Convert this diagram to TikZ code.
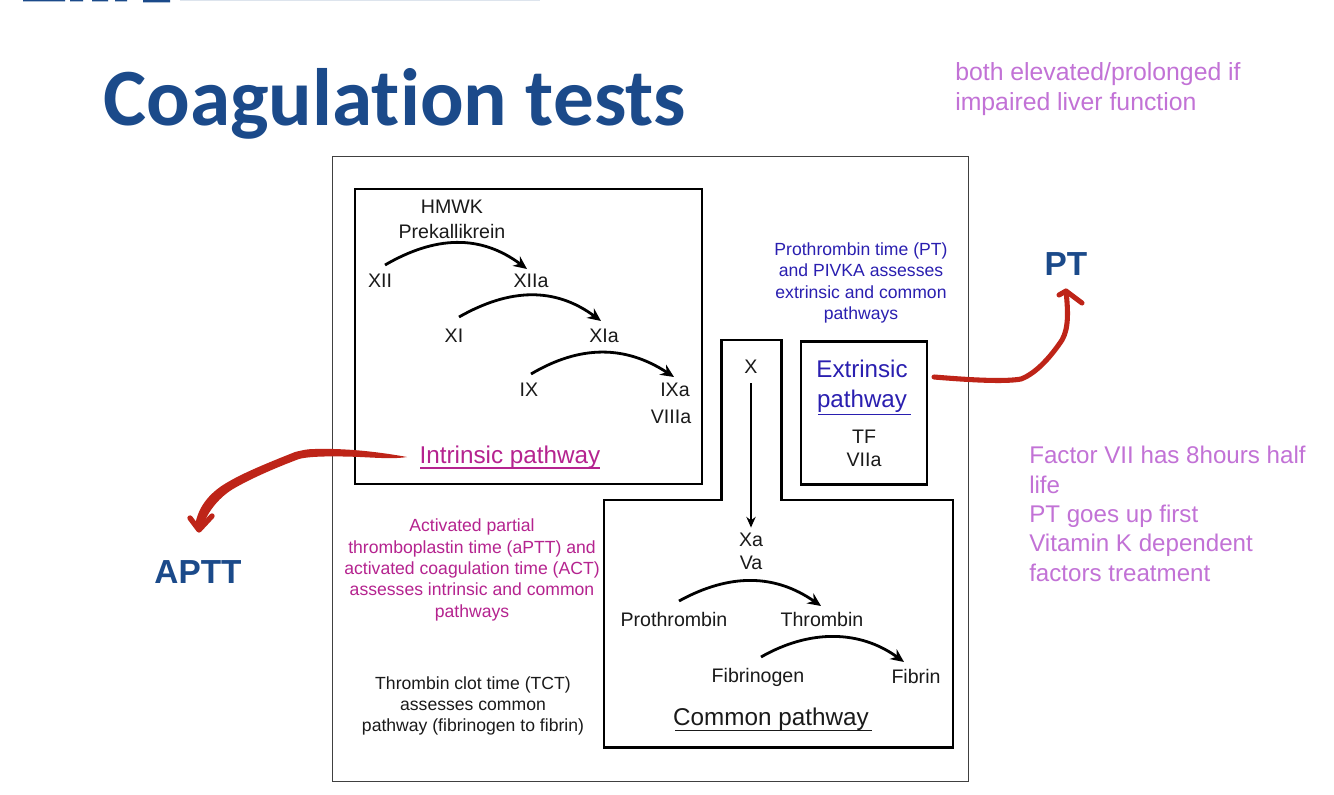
\documentclass[tikz,border=0pt]{standalone}
\usepackage{fontspec}
\setmainfont{Liberation Sans}
\newfontfamily\titlefont[Ligatures=NoCommon]{Carlito}
\usetikzlibrary{arrows.meta}
\definecolor{navy}{HTML}{1B4A8A}
\definecolor{lilac}{HTML}{C272D6}
\definecolor{magentax}{HTML}{B5238F}
\definecolor{bluex}{HTML}{2A1FB0}
\definecolor{redx}{HTML}{BE2418}
\definecolor{inkx}{HTML}{1A1A1A}
\tikzset{
 lab/.style={font=\fontsize{14.7}{17}\selectfont,text=inkx,inner sep=0pt,align=center},
 side/.style={font=\fontsize{13.2}{16}\selectfont,inner sep=0pt,align=center},
 note/.style={font=\fontsize{18.1}{22}\selectfont,text=lilac,inner sep=0pt,align=left,anchor=west},
 head/.style={font=\bfseries\fontsize{25}{30}\selectfont,text=navy,inner sep=0pt},
 box/.style={draw=black,line width=1.8pt},
 arc/.style={draw=black,line width=2.1pt,-{Stealth[length=10pt,width=9pt]}},
 pen/.style={draw=redx,line width=3.8pt,line cap=round,line join=round},
}
\begin{document}
\begin{tikzpicture}[x=0.75pt,y=-0.75pt]
\useasboundingbox (0,0) rectangle (1334,795);
\fill[white] (0,0) rectangle (1334,795);
% cropped logo fragment at the top edge
\begin{scope}
\clip (0,0) rectangle (1334,3);
\fill[navy] (23,0) rectangle (65,1.5) (70,0) rectangle (83,1.5) (92,0) rectangle (108,1.5) (115,0) rectangle (127,1.5) (143,0) rectangle (170,2.5);
\fill[navy!15] (180,0) rectangle (540,1.2);
\end{scope}
\node[font=\titlefont\bfseries\fontsize{61}{64}\selectfont,text=navy,inner sep=0pt,anchor=base west] (title) at (103,126) {Coagulation tests};
\node[note,font=\fontsize{18.6}{22}\selectfont] (n1) at (955,89) {both elevated/prolonged if\\impaired liver function};
% frame
\node[draw=black!75,line width=0.9pt,minimum width=636pt*0.75,minimum height=625pt*0.75,inner sep=0pt] (frame) at (650.5,469) {};
% intrinsic box
\node[box,minimum width=347pt*0.75,minimum height=295pt*0.75,inner sep=0pt] (ibox) at (528.5,336.5) {};
\node[lab] (hmwk) at (452,207) {HMWK};
\node[lab] (prek) at (452,231) {Prekallikrein};
\node[lab] (xii) at (380,281) {XII};
\node[lab] (xiia) at (531,281) {XIIa};
\node[lab] (xi) at (454,336) {XI};
\node[lab] (xia) at (604,336) {XIa};
\node[lab] (ix) at (529,390) {IX};
\node[lab] (ixa) at (675,390) {IXa};
\node[lab] (viiia) at (671,417) {VIIIa};
\draw[arc] (385,265) .. controls (435,236) and (480,234) .. (527,269);
\draw[arc] (459,317) .. controls (510,288) and (555,287) .. (601,321);
\draw[arc] (531,374) .. controls (580,345) and (625,345) .. (674,377);
\node[font=\fontsize{18.2}{20}\selectfont,text=magentax,inner sep=0pt] (itxt) at (510,457) {Intrinsic pathway};
\draw[magentax,line width=1pt] (420,468) -- (600,468);
% common pathway outline
\draw[box,line join=miter] (721.5,340) -- (781.5,340) -- (781.5,500) -- (953,500) -- (953,747.5) -- (604,747.5) -- (604,500) -- (721.5,500) -- cycle;
\node[lab] (x) at (751,367) {X};
\node[lab] (xa) at (751,540) {Xa};
\node[lab] (va) at (751,563) {Va};
\draw[draw=black,line width=1.5pt,-{Stealth[length=8pt,width=7pt]},shorten >=4pt] (x.south)++(0,9) -- (xa.north-|x);
\node[lab] (pro) at (674,619) {Prothrombin};
\node[lab] (thr) at (822,619) {Thrombin};
\node[lab] (fbg) at (758,677) {Fibrinogen};
\node[lab] (fbn) at (916,676) {Fibrin};
\draw[arc] (679,601) .. controls (730,573) and (775,574) .. (821,606);
\draw[arc] (761,657) .. controls (810,629) and (860,630) .. (904,662);
\node[font=\fontsize{18.2}{20}\selectfont,text=inkx,inner sep=0pt] (ctxt) at (771,719) {Common pathway};
\draw[inkx,line width=0.9pt] (675,730.5) -- (872,730.5);
% extrinsic
\node[box,minimum width=126pt*0.75,minimum height=143pt*0.75,inner sep=0pt] (ebox) at (864,413) {};
\node[font=\fontsize{18.1}{22.5}\selectfont,text=bluex,inner sep=0pt,align=center] (etxt) at (862,386) {Extrinsic\\pathway};
\draw[bluex,line width=1.1pt] (818,414.5) -- (911,414.5);
\node[lab] (tf) at (864,437) {TF};
\node[lab] (viia) at (864,460) {VIIa};
% annotations
\node[side,text=bluex] (ptnote) at (861,283) {Prothrombin time (PT)\\and PIVKA assesses\\extrinsic and common\\pathways};
\node[side,text=magentax] (apnote) at (472,570) {Activated partial\\thromboplastin time (aPTT) and\\activated coagulation time (ACT)\\assesses intrinsic and common\\pathways};
\node[side,text=inkx] (tct) at (473,706) {Thrombin clot time (TCT)\\assesses common\\pathway (fibrinogen to fibrin)};
\node[head] (pt) at (1066,264) {PT};
\node[head] (aptt) at (198,572) {APTT};
\node[note] (n2) at (1029,514) {Factor VII has 8hours half\\life\\PT goes up first\\Vitamin K dependent\\factors treatment};
% red pen strokes
\coordinate (ps) at (934,377);
\coordinate (pe) at (1066,291);
\draw[pen] (ps) .. controls (970,380) and (1005,382) .. (1021,379) .. controls (1037,373) and (1052,355) .. (1062,340) .. controls (1069,328) and (1068,310) .. (pe);
\draw[pen] (1059,295) -- (pe) -- (1082,303);
\coordinate (as) at (407,457);
\coordinate (ae) at (199,530);
\fill[redx] (as) .. controls (385,453) and (350,448) .. (315,449) .. controls (305,449) and (300,451) .. (295,452) .. controls (270,462) and (245,472) .. (228,482) .. controls (212,491) and (198,505) .. (195,526) -- (203,528) .. controls (205,515) and (218,498) .. (233,489) .. controls (250,479) and (275,468) .. (299,459) .. controls (310,456) and (335,456) .. (360,457) .. controls (380,458) and (395,459) .. (as) -- cycle;
\draw[pen,line width=4pt] (190,518) -- (ae) -- (212,516);
\end{tikzpicture}
\end{document}
